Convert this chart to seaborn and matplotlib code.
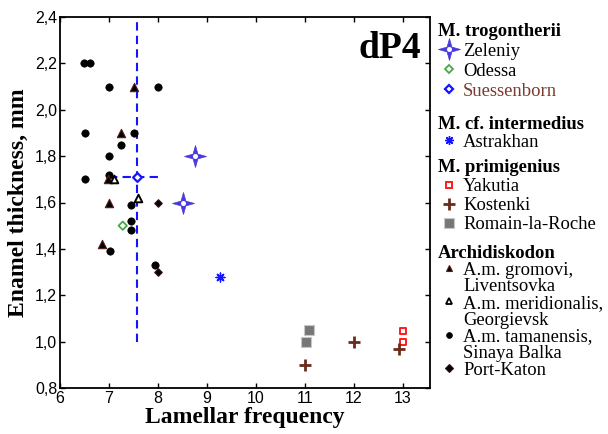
import numpy as np
import matplotlib
matplotlib.use("Agg")
import matplotlib.pyplot as plt
from matplotlib.lines import Line2D
from matplotlib.path import Path
from matplotlib.ticker import FuncFormatter
import seaborn as sns

# --- data (x = lamellar frequency, y = enamel thickness, mm)
zeleniy_x = [8.75, 8.5]
zeleniy_y = [1.8, 1.6]
odessa_x = [7.28]
odessa_y = [1.5]
suess_x = [7.58]
suess_y = [1.71]
suess_xerr = [[0.58], [0.44]]
suess_yerr = [[0.71], [0.67]]
astrakhan_x = [9.26]
astrakhan_y = [1.28]
yakutia_x = [13.0, 13.0]
yakutia_y = [1.045, 1.0]
kostenki_x = [11.0, 12.0, 12.92]
kostenki_y = [0.9, 1.0, 0.97]
romain_x = [11.09, 11.01]
romain_y = [1.05, 1.0]
gromovi_x = [7.5, 7.25, 6.97, 7.0, 6.86]
gromovi_y = [2.1, 1.9, 1.7, 1.6, 1.42]
meridionalis_x = [7.1, 7.59]
meridionalis_y = [1.7, 1.62]
tamanensis_x = [6.48, 6.62, 7.0, 8.0, 6.5, 7.5, 7.25, 7.0, 7.0, 6.5, 7.45, 7.45, 7.45, 7.03, 7.94]
tamanensis_y = [2.2, 2.2, 2.1, 2.1, 1.9, 1.9, 1.85, 1.8, 1.72, 1.7, 1.59, 1.52, 1.48, 1.39, 1.33]
katon_x = [8.0, 8.0]
katon_y = [1.6, 1.3]

x_ticks = [6, 7, 8, 9, 10, 11, 12, 13]
y_ticks = [0.8, 1.0, 1.2, 1.4, 1.6, 1.8, 2.0, 2.2, 2.4]

sns.set_style("ticks")
plt.rcParams['font.family'] = ['Liberation Serif', 'DejaVu Serif']
for key in ['text.color', 'axes.labelcolor', 'xtick.color', 'ytick.color', 'axes.edgecolor']:
    plt.rcParams[key] = 'black'

# 4-pointed star marker (Zeleniy)
k = 0.22
star = Path([(0, 1), (k, k), (1, 0), (k, -k), (0, -1), (-k, -k), (-1, 0), (-k, k), (0, 1)],
            [Path.MOVETO] + [Path.LINETO] * 7 + [Path.CLOSEPOLY])

STAR_C = '#4a3adb'
BLUE = '#1414ff'
GREEN = '#4aa84a'
RED = '#ff1a1a'
BROWN = '#6b2a1a'
GREY = '#777777'

fig = plt.figure(figsize=(6.08, 4.34), dpi=100)
ax = fig.add_axes([60 / 608, 1 - 388 / 434, 370 / 608, 371 / 434])

# Suessenborn range lines
eb = ax.errorbar(suess_x, suess_y, xerr=suess_xerr, yerr=suess_yerr, fmt='none',
                 ecolor=BLUE, elinewidth=1.5, capsize=0, zorder=2)
for lc in eb[2]:
    lc.set_linestyle((0, (4, 2.5)))

sns.scatterplot(x=tamanensis_x, y=tamanensis_y, marker='o', s=28, color='black',
                edgecolor='black', linewidth=0.5, ax=ax, zorder=3)
sns.scatterplot(x=gromovi_x, y=gromovi_y, marker='^', s=36, color='black',
                edgecolor='#5a1a1a', linewidth=0.8, ax=ax, zorder=3)
sns.scatterplot(x=meridionalis_x, y=meridionalis_y, marker='^', s=30, color='black',
                facecolor='white', edgecolor='black', linewidth=1.4, ax=ax, zorder=3)
sns.scatterplot(x=katon_x, y=katon_y, marker='D', s=15, color='black',
                edgecolor='#3a1010', linewidth=0.8, ax=ax, zorder=3)
sns.scatterplot(x=odessa_x, y=odessa_y, marker='D', s=18, color=GREEN,
                facecolor='none', edgecolor=GREEN, linewidth=1.3, ax=ax, zorder=3)
sns.scatterplot(x=suess_x, y=suess_y, marker='D', s=20, color=BLUE,
                facecolor='white', edgecolor=BLUE, linewidth=1.6, ax=ax, zorder=4)
sns.scatterplot(x=zeleniy_x, y=zeleniy_y, marker=star, s=250, color=STAR_C,
                edgecolor=STAR_C, linewidth=0.5, ax=ax, zorder=3)
sns.scatterplot(x=zeleniy_x, y=zeleniy_y, marker='o', s=13, color='white',
                edgecolor='white', linewidth=0, ax=ax, zorder=4)
sns.scatterplot(x=astrakhan_x, y=astrakhan_y, marker=(8, 2, 0), s=40, color=BLUE,
                linewidth=1.0, ax=ax, zorder=3)
sns.scatterplot(x=yakutia_x, y=yakutia_y, marker='s', s=18, color=RED,
                facecolor='none', edgecolor=RED, linewidth=1.4, ax=ax, zorder=3)
sns.scatterplot(x=kostenki_x, y=kostenki_y, marker='+', s=64, color=BROWN,
                linewidth=2, ax=ax, zorder=3)
sns.scatterplot(x=romain_x, y=romain_y, marker='s', s=52, color=GREY,
                edgecolor='#c8c8c8', linewidth=0.8, ax=ax, zorder=3)

ax.set_xlim(6, 13.55)
ax.set_ylim(0.8, 2.4)
ax.set_xticks(x_ticks)
ax.set_yticks(y_ticks)
ax.yaxis.set_major_formatter(FuncFormatter(lambda v, p: f"{v:.1f}".replace('.', ',')))
ax.tick_params(direction='in', length=3.5, width=1, top=True, right=True,
               labelsize=11.5, pad=2, colors='black')
for lab in ax.get_xticklabels() + ax.get_yticklabels():
    lab.set_fontfamily('Liberation Sans')
for sp in ax.spines.values():
    sp.set_linewidth(1.3)
    sp.set_color('black')
    sp.set_visible(True)

ax.set_xlabel("Lamellar frequency", fontsize=17, fontweight='bold', labelpad=1)
ax.set_ylabel("Enamel thickness, mm", fontsize=17, fontweight='bold', labelpad=4)
ax.text(0.976, 0.889, "dP4", transform=ax.transAxes, ha='right', va='baseline',
        fontsize=27, fontweight='bold')


# --- legend: four stacked blocks with bold headings
def h(marker, ms, mfc, mec, mew=1.0):
    return Line2D([], [], linestyle='none', marker=marker, markersize=ms,
                  markerfacecolor=mfc, markeredgecolor=mec, markeredgewidth=mew)


blank = Line2D([], [], linestyle='none', color='none')
zel_h = (h(star, 15.8, STAR_C, STAR_C, 0.5), h('o', 3.6, 'white', 'white', 0))

blocks = [
    ("M. trogontherii", 22.5, 0.16,
     [zel_h, h('D', 4.2, 'none', GREEN, 1.3), h('D', 4.5, 'white', BLUE, 1.6)],
     ["Zeleniy", "Odessa", "Suessenborn"]),
    ("M. cf. intermedius", 116, 0.05,
     [h((8, 2, 0), 6.3, BLUE, BLUE, 1.0)], ["Astrakhan"]),
    ("M. primigenius", 159, 0.11,
     [h('s', 4.2, 'none', RED, 1.4), h('+', 8, BROWN, BROWN, 2),
      h('s', 7.2, GREY, '#c8c8c8', 0.8)],
     ["Yakutia", "Kostenki", "Romain-la-Roche"]),
    ("Archidiskodon", 245, -0.02,
     [h('^', 4.5, 'black', '#5a1a1a', 0.8), blank,
      h('^', 4.3, 'white', 'black', 1.3), blank,
      h('o', 4.2, 'black', 'black', 0.5), blank,
      h('D', 3.6, 'black', '#3a1010', 0.8)],
     ["A.m. gromovi,", "Liventsovka", "A.m. meridionalis,", "Georgievsk",
      "A.m. tamanensis,", "Sinaya Balka", "Port-Katon"]),
]

for title, top, spacing, handles, labels in blocks:
    leg = fig.legend(handles, labels, title=title, loc='upper left',
                     bbox_to_anchor=(438 / 608, 1 - top / 434),
                     bbox_transform=fig.transFigure, frameon=False,
                     borderpad=0, borderaxespad=0, handlelength=1.19,
                     handletextpad=0.16, labelspacing=spacing, alignment='left',
                     prop={'family': 'Liberation Serif', 'size': 13.4},
                     title_fontproperties={'family': 'Liberation Serif',
                                           'size': 13.4, 'weight': 'bold'})
    for t in leg.get_texts():
        t.set_color('black')
    leg.get_title().set_color('black')
    if title == "M. trogontherii":
        leg.get_texts()[2].set_color('#7a3b2e')

fig.savefig("out.png", dpi=100)
